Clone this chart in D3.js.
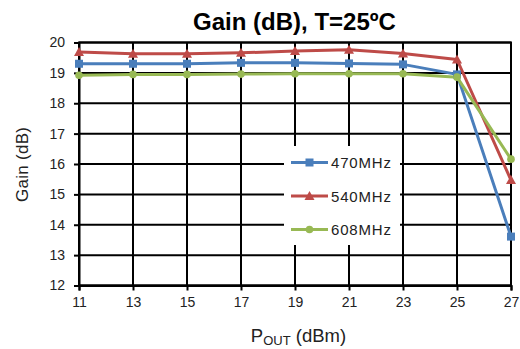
<!DOCTYPE html>
<html>
<head>
<meta charset="utf-8">
<script src="https://cdn.jsdelivr.net/npm/d3@7"></script>
<style>
  html, body { margin: 0; padding: 0; background: #fff; }
  svg { display: block; font-family: "Liberation Sans", Arial, sans-serif; }
</style>
</head>
<body>
<svg id="chart" width="520" height="349"></svg>
<script>
// Output power (dBm) sweep
const pout = [11, 13, 15, 17, 19, 21, 23, 25, 27];
const gain470 = [19.30, 19.30, 19.30, 19.33, 19.33, 19.31, 19.28, 18.95, 13.61];
const gain540 = [19.69, 19.63, 19.63, 19.66, 19.72, 19.76, 19.64, 19.44, 15.47];
const gain608 = [18.92, 18.95, 18.95, 18.96, 18.97, 18.97, 18.97, 18.86, 16.16];
const seriesNames = ["470MHz", "540MHz", "608MHz"];
const xTicks = [11, 13, 15, 17, 19, 21, 23, 25, 27];
const yTicks = [12, 13, 14, 15, 16, 17, 18, 19, 20];

const svg = d3.select("#chart");
const plotLeft = 79, plotRight = 511, plotTop = 42.5, plotBottom = 285.5;

const x = d3.scaleLinear().domain([11, 27]).range([plotLeft, plotRight]);
const y = d3.scaleLinear().domain([12, 20]).range([plotBottom, plotTop]);

const colors = ["#4a7ebb", "#be4b48", "#98b954"];
const series = [gain470, gain540, gain608].map((vals, i) => ({
  name: seriesNames[i], color: colors[i], values: vals.map((v, j) => [pout[j], v])
}));

// Gridlines
const grid = svg.append("g").attr("stroke", "#000").attr("stroke-width", 2);
grid.selectAll("line.v").data(xTicks).join("line").attr("class", "v")
  .attr("x1", d => x(d)).attr("x2", d => x(d))
  .attr("y1", plotTop).attr("y2", plotBottom);
grid.selectAll("line.h").data(yTicks).join("line").attr("class", "h")
  .attr("y1", d => y(d)).attr("y2", d => y(d))
  .attr("x1", plotLeft).attr("x2", plotRight);

// Axes
const xAxis = svg.append("g").attr("transform", `translate(0,${plotBottom})`)
  .call(d3.axisBottom(x).tickValues(xTicks).tickSize(5).tickPadding(7).tickFormat(d3.format("d")));
const yAxis = svg.append("g").attr("transform", `translate(${plotLeft},0)`)
  .call(d3.axisLeft(y).tickValues(yTicks).tickSize(5).tickPadding(9).tickFormat(d3.format("d")));
[xAxis, yAxis].forEach(a => {
  a.select(".domain").attr("stroke", "#000").attr("stroke-width", 2);
  a.selectAll(".tick line").attr("stroke", "#000").attr("stroke-width", 2);
  a.selectAll(".tick text").attr("fill", "#222").attr("font-size", 14)
    .attr("font-family", "Liberation Sans, Arial, sans-serif");
});
svg.append("rect").attr("x", plotLeft).attr("y", plotTop)
  .attr("width", plotRight - plotLeft).attr("height", plotBottom - plotTop)
  .attr("fill", "none").attr("stroke", "#000").attr("stroke-width", 2);

// Legend background
const lg = svg.append("g");
lg.append("rect").attr("x", 284).attr("y", 146).attr("width", 116).attr("height", 99).attr("fill", "#fff");

// Series lines
const line = d3.line().x(d => x(d[0])).y(d => y(d[1]));
const plot = svg.append("g");
series.forEach(s => {
  plot.append("path").datum(s.values).attr("d", line)
    .attr("fill", "none").attr("stroke", s.color).attr("stroke-width", 3)
    .attr("stroke-linejoin", "round");
});

function marker(g, kind, cx, cy, color) {
  if (kind === 0) {
    g.append("rect").attr("x", cx - 4).attr("y", cy - 4).attr("width", 8).attr("height", 8).attr("fill", color);
  } else if (kind === 1) {
    g.append("path").attr("d", `M${cx},${cy - 5}L${cx + 5},${cy + 4}L${cx - 5},${cy + 4}Z`).attr("fill", color);
  } else {
    g.append("circle").attr("cx", cx).attr("cy", cy).attr("r", 3.8).attr("fill", color);
  }
}
series.forEach((s, i) => {
  s.values.forEach(d => marker(plot, i, x(d[0]), y(d[1]), s.color));
});

// Legend entries
series.forEach((s, i) => {
  const ly = 162.5 + i * 33.5;
  lg.append("line").attr("x1", 291).attr("x2", 328).attr("y1", ly).attr("y2", ly)
    .attr("stroke", s.color).attr("stroke-width", 3);
  marker(lg, i, 309.5, ly, s.color);
  lg.append("text").attr("x", 331).attr("y", ly + 5.5).attr("font-size", 15)
    .attr("textLength", 60).attr("lengthAdjust", "spacing")
    .attr("fill", "#222").text(s.name);
});

// Title
svg.append("text").attr("x", 294.5).attr("y", 30).attr("text-anchor", "middle")
  .attr("font-size", 24).attr("font-weight", "bold").attr("fill", "#000")
  .text("Gain (dB), T=25ºC");

// Axis titles
svg.append("text").attr("transform", "translate(28,164.5) rotate(-90)")
  .attr("text-anchor", "middle").attr("font-size", 17).attr("fill", "#222")
  .attr("textLength", 75).attr("lengthAdjust", "spacing")
  .text("Gain (dB)");
const xt = svg.append("text").attr("x", 298.5).attr("y", 341.5).attr("text-anchor", "middle")
  .attr("font-size", 18.5).attr("fill", "#222");
xt.append("tspan").text("P");
xt.append("tspan").attr("font-size", 13).attr("dy", 3).text("OUT");
xt.append("tspan").attr("dy", -3).text(" (dBm)");
</script>
</body>
</html>
